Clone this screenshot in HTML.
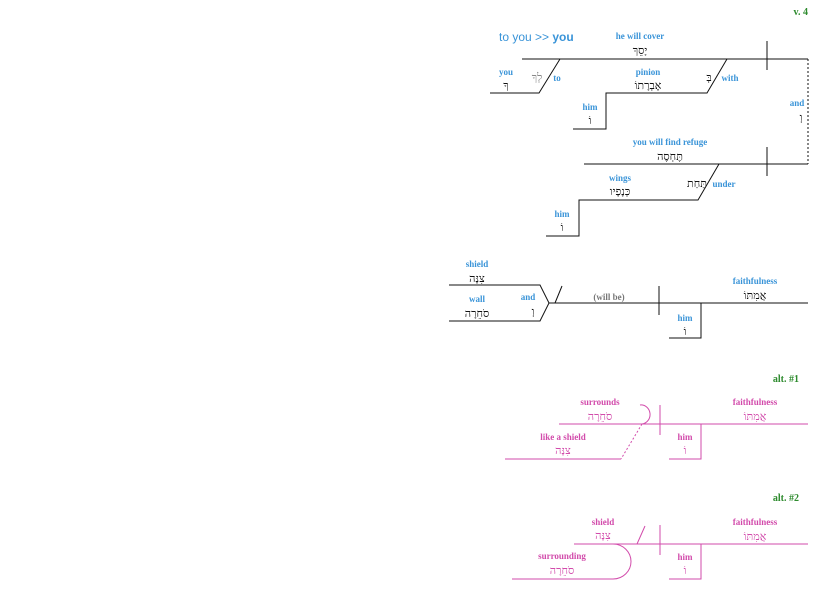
<!DOCTYPE html>
<html><head><meta charset="utf-8"><style>
html,body{margin:0;padding:0;background:#fff;}
svg{display:block;}
.l{font-family:"Liberation Serif",serif;font-weight:bold;font-size:9px;text-anchor:middle;}
.b{fill:#3a94d8;}
.p{fill:#d24bab;}
.g{fill:#2e8b2e;}
.h{font-family:"Liberation Serif","DejaVu Serif",serif;font-size:11px;text-anchor:middle;fill:#111;}
.hp{font-family:"Liberation Serif","DejaVu Serif",serif;font-size:11px;text-anchor:middle;fill:#d24bab;}
.k{stroke:#111;stroke-width:1;fill:none;}
.pk{stroke:#d24bab;stroke-width:1;fill:none;}
</style></head><body>
<svg width="825" height="594" viewBox="0 0 825 594" xmlns="http://www.w3.org/2000/svg">
<text x="808" y="15" class="l g" style="text-anchor:end;font-size:10px">v. 4</text>
<text x="499" y="41" style="font-family:'Liberation Sans',sans-serif;font-size:12px;fill:#3a94d8">to you &gt;&gt; <tspan font-weight="bold">you</tspan></text>

<!-- top clause -->
<path class="k" d="M522 59H808 M767 41V70 M560 59L539 93H490 M727 59L707 93H606V129H573"/>
<text x="640" y="39" class="l b">he will cover</text>
<text x="640" y="54" class="h">יָסֵךְ</text>
<text x="506" y="75" class="l b">you</text>
<text x="506" y="89" class="h">ךָ</text>
<text x="537" y="81" class="h" style="fill:#888">לְךָ</text>
<text x="557" y="81" class="l b">to</text>
<text x="648" y="75" class="l b">pinion</text>
<text x="648" y="89" class="h">אֶבְרָתוֹ</text>
<text x="709" y="81" class="h">בְּ</text>
<text x="730" y="81" class="l b">with</text>
<text x="590" y="110" class="l b">him</text>
<text x="590" y="124" class="h">וֹ</text>
<path d="M808 59V164" stroke="#111" stroke-dasharray="2,2" fill="none"/>
<text x="797" y="106" class="l b">and</text>
<text x="801" y="121" class="h">וְ</text>

<path class="k" d="M584 164H808 M767 147V176 M719 164L698 200H579V236H546"/>
<text x="670" y="145" class="l b">you will find refuge</text>
<text x="670" y="160" class="h">תֶּחְסֶה</text>
<text x="620" y="181" class="l b">wings</text>
<text x="620" y="195" class="h">כְּנָפָיו</text>
<text x="697" y="187" class="h">תַּחַת</text>
<text x="724" y="187" class="l b">under</text>
<text x="562" y="217" class="l b">him</text>
<text x="562" y="231" class="h">וֹ</text>

<!-- middle clause -->
<path class="k" d="M449 285H540L549 303L540 321H449 M549 303H808 M555 303L562 286 M659 286V315 M701 303V338H669"/>
<text x="477" y="267" class="l b">shield</text>
<text x="477" y="282" class="h">צִנָּה</text>
<text x="477" y="302" class="l b">wall</text>
<text x="477" y="317" class="h">סֹחֵרָה</text>
<text x="528" y="300" class="l b">and</text>
<text x="533" y="315" class="h">וְ</text>
<text x="609" y="300" class="l" style="fill:#777">(will be)</text>
<text x="755" y="284" class="l b">faithfulness</text>
<text x="755" y="299" class="h">אֲמִתּוֹ</text>
<text x="685" y="321" class="l b">him</text>
<text x="685" y="335" class="h">וֹ</text>

<!-- alt 1 -->
<text x="799" y="382" class="l g" style="text-anchor:end;font-size:10px">alt. #1</text>
<path class="pk" d="M559 424H808 M660 405V435 M640 405A9 9.5 0 0 1 642 424 M701 424V459H669 M621 459H505"/>
<path d="M642 424L621 459" stroke="#d24bab" stroke-dasharray="2,2" fill="none"/>
<text x="600" y="405" class="l p">surrounds</text>
<text x="600" y="420" class="hp">סֹחֵרָה</text>
<text x="563" y="440" class="l p">like a shield</text>
<text x="563" y="454" class="hp">צִנָּה</text>
<text x="755" y="405" class="l p">faithfulness</text>
<text x="755" y="420" class="hp">אֲמִתּוֹ</text>
<text x="685" y="440" class="l p">him</text>
<text x="685" y="454" class="hp">וֹ</text>

<!-- alt 2 -->
<text x="799" y="501" class="l g" style="text-anchor:end;font-size:10px">alt. #2</text>
<path class="pk" d="M574 544H808 M660 525V555 M637 544L645 526 M613 544A18 17.5 0 0 1 613 579H512 M701 544V579H669"/>
<text x="603" y="525" class="l p">shield</text>
<text x="603" y="539" class="hp">צִנָּה</text>
<text x="562" y="559" class="l p">surrounding</text>
<text x="562" y="574" class="hp">סֹחֵרָה</text>
<text x="755" y="525" class="l p">faithfulness</text>
<text x="755" y="540" class="hp">אֲמִתּוֹ</text>
<text x="685" y="560" class="l p">him</text>
<text x="685" y="574" class="hp">וֹ</text>
</svg>
</body></html>
